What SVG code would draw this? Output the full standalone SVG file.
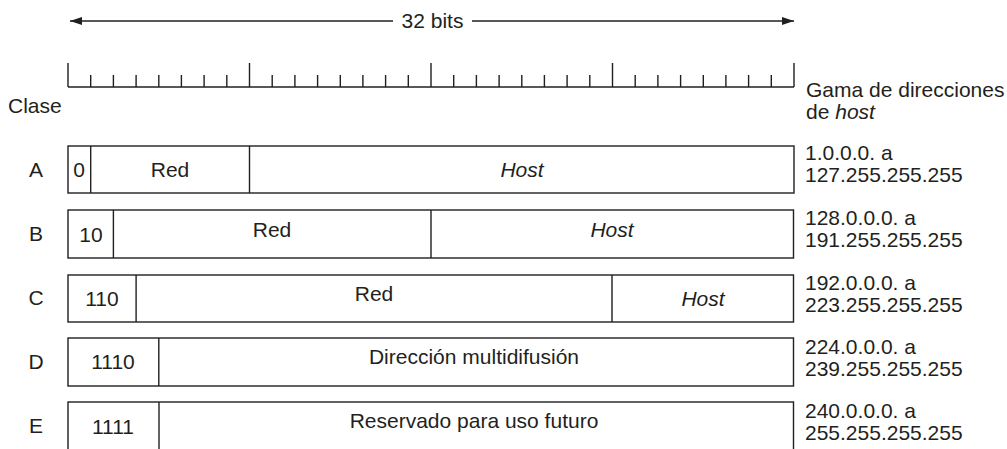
<svg xmlns="http://www.w3.org/2000/svg" width="1007" height="449" viewBox="0 0 1007 449">
<style>
text{font-family:"Liberation Sans",Arial,sans-serif;font-size:21px;fill:#231f20}
.m{text-anchor:middle}
.i{font-style:italic}
.ln{stroke:#231f20;stroke-width:1.4;fill:none}
.bx{stroke:#231f20;stroke-width:1.4;fill:#fff}
</style>
<defs>
<marker id="ah" viewBox="0 0 12 8" refX="12" refY="4" markerWidth="12" markerHeight="8" markerUnits="userSpaceOnUse" orient="auto">
<path d="M0,0 L12,4 L0,8 Z" fill="#231f20"/>
</marker>
</defs>
<rect width="1007" height="449" fill="#fff"/>

<g id="connectors">
<line class="ln" x1="393" y1="21" x2="70" y2="21" marker-end="url(#ah)"/>
<line class="ln" x1="472" y1="21" x2="794" y2="21" marker-end="url(#ah)"/>
</g>
<text x="432.5" y="28" class="m">32 bits</text>

<g id="ruler" class="ln">
<path d="M68,87 H794"/>
<path d="M68,63 V87 M249.5,63 V87 M431,63 V87 M612.5,63 V87 M794,63 V87"/>
<path d="M90.7,75 V87 M113.4,75 V87 M136.1,75 V87 M158.8,75 V87 M181.4,75 V87 M204.1,75 V87 M226.8,75 V87
M272.2,75 V87 M294.9,75 V87 M317.6,75 V87 M340.3,75 V87 M362.9,75 V87 M385.6,75 V87 M408.3,75 V87
M453.7,75 V87 M476.4,75 V87 M499.1,75 V87 M521.8,75 V87 M544.4,75 V87 M567.1,75 V87 M589.8,75 V87
M635.2,75 V87 M657.9,75 V87 M680.6,75 V87 M703.3,75 V87 M725.9,75 V87 M748.6,75 V87 M771.3,75 V87"/>
</g>

<text x="8" y="113">Clase</text>
<text x="806" y="97">Gama de direcciones</text>
<text x="806" y="119">de <tspan class="i">host</tspan></text>

<g id="classA">
<text x="36" y="177" class="m">A</text>
<rect class="bx" x="68" y="146" width="726" height="47"/>
<path class="ln" d="M90.7,146 V193 M249.5,146 V193"/>
<text x="79" y="177" class="m">0</text>
<text x="170" y="177" class="m">Red</text>
<text x="522" y="177" class="m i">Host</text>
<text x="805" y="160">1.0.0.0. a</text>
<text x="805" y="182">127.255.255.255</text>
</g>

<g id="classB">
<text x="36" y="241" class="m">B</text>
<rect class="bx" x="68" y="210" width="725.5" height="48"/>
<path class="ln" d="M113.4,210 V258 M431,210 V258"/>
<text x="91" y="242" class="m">10</text>
<text x="272" y="237" class="m">Red</text>
<text x="612" y="237" class="m i">Host</text>
<text x="805" y="225">128.0.0.0. a</text>
<text x="805" y="247">191.255.255.255</text>
</g>

<g id="classC">
<text x="36" y="305" class="m">C</text>
<rect class="bx" x="68" y="275" width="725.5" height="47"/>
<path class="ln" d="M136.1,275 V322 M612,275 V322"/>
<text x="102" y="306" class="m">110</text>
<text x="374" y="301" class="m">Red</text>
<text x="703" y="306" class="m i">Host</text>
<text x="805" y="290">192.0.0.0. a</text>
<text x="805" y="312">223.255.255.255</text>
</g>

<g id="classD">
<text x="36" y="369" class="m">D</text>
<rect class="bx" x="68" y="338" width="725.5" height="48"/>
<path class="ln" d="M158.8,338 V386"/>
<text x="113" y="369" class="m">1110</text>
<text x="474" y="364" class="m">Dirección multidifusión</text>
<text x="805" y="354">224.0.0.0. a</text>
<text x="805" y="376">239.255.255.255</text>
</g>

<g id="classE">
<text x="36" y="433" class="m">E</text>
<rect class="bx" x="68" y="402" width="725.5" height="60"/>
<path class="ln" d="M159,402 V460"/>
<text x="113" y="434" class="m">1111</text>
<text x="474" y="428" class="m">Reservado para uso futuro</text>
<text x="805" y="418">240.0.0.0. a</text>
<text x="805" y="440">255.255.255.255</text>
</g>
</svg>
